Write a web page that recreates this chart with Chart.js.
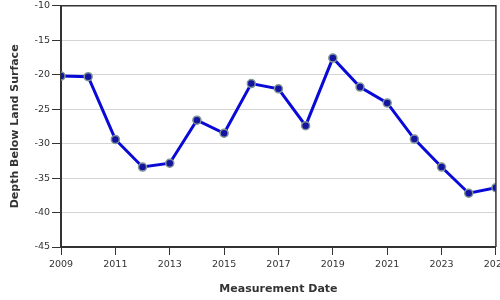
<!DOCTYPE html>
<html>
<head>
<meta charset="utf-8">
<script src="https://cdn.jsdelivr.net/npm/chart.js@4"></script>
<style>
  html, body { margin: 0; padding: 0; background: #fff; overflow: hidden; }
  #wrap { position: relative; width: 500px; height: 300px; overflow: hidden; }
  #chart { position: absolute; left: 0; top: -2px; }
</style>
</head>
<body>
<div id="wrap">
  <canvas id="chart" width="512" height="302"></canvas>
</div>
<script>
const years = [2009, 2010, 2011, 2012, 2013, 2014, 2015, 2016, 2017, 2018, 2019, 2020, 2021, 2022, 2023, 2024, 2025];
const depths = [-20.2, -20.3, -29.4, -33.4, -32.85, -26.6, -28.5, -21.3, -22.05, -27.4, -17.6, -21.8, -24.1, -29.35, -33.4, -37.2, -36.4];
const yTicks = [-45, -40, -35, -30, -25, -20, -15, -10];

// thin top and right edges of the plot frame
const frameBorder = {
    id: 'frameBorder',
    afterDraw(chart) {
        const a = chart.chartArea;
        const c = chart.ctx;
        c.save();
        c.strokeStyle = '#333';
        c.lineWidth = 1.5;
        c.beginPath();
        c.moveTo(a.left, a.top);
        c.lineTo(a.right, a.top);
        c.lineTo(a.right, a.bottom);
        c.stroke();
        c.restore();
    }
};

document.addEventListener('DOMContentLoaded', function() {
    const ctx = document.getElementById('chart');
    Chart.defaults.font.family = 'DejaVu Sans';
    Chart.defaults.color = '#333';

    new Chart(ctx, {
        type: 'line',
        data: {
            datasets: [{
                data: years.map((y, i) => ({ x: y, y: depths[i] })),
                borderColor: '#0a0ad8',
                borderWidth: 3,
                pointRadius: 4,
                pointBackgroundColor: '#1414a0',
                pointBorderColor: '#7f9494',
                pointBorderWidth: 1.5,
                tension: 0
            }]
        },
        options: {
            responsive: false,
            animation: false,
            layout: { padding: 0 },
            plugins: {
                legend: { display: false },
                tooltip: { enabled: false }
            },
            scales: {
                x: {
                    type: 'linear',
                    min: 2009,
                    max: 2025,
                    ticks: {
                        stepSize: 2,
                        font: { size: 9.5 },
                        color: '#333',
                        padding: 4,
                        maxRotation: 0,
                        callback: v => String(v)
                    },
                    grid: {
                        drawOnChartArea: false,
                        drawTicks: true,
                        tickLength: 8,
                        tickColor: '#333'
                    },
                    border: { color: '#333', width: 2 },
                    title: {
                        display: true,
                        text: 'Measurement Date',
                        font: { size: 11, weight: 'bold' },
                        color: '#333',
                        padding: { top: 6, bottom: 4 }
                    },
                    afterFit: s => { s.height = 53; }
                },
                y: {
                    min: -45,
                    max: -10,
                    afterBuildTicks: s => { s.ticks = yTicks.map(v => ({ value: v })); },
                    ticks: {
                        font: { size: 9.5 },
                        color: '#333',
                        padding: 2
                    },
                    grid: {
                        color: '#d4d4d4',
                        lineWidth: 1,
                        drawTicks: true,
                        tickLength: 9,
                        tickColor: '#333'
                    },
                    border: { color: '#333', width: 2 },
                    title: {
                        display: true,
                        text: 'Depth Below Land Surface',
                        font: { size: 11, weight: 'bold' },
                        color: '#333',
                        padding: { top: 9, bottom: 6 }
                    },
                    afterFit: s => { s.width = 61; }
                }
            }
        },
        plugins: [frameBorder]
    });
});
</script>
</body>
</html>
